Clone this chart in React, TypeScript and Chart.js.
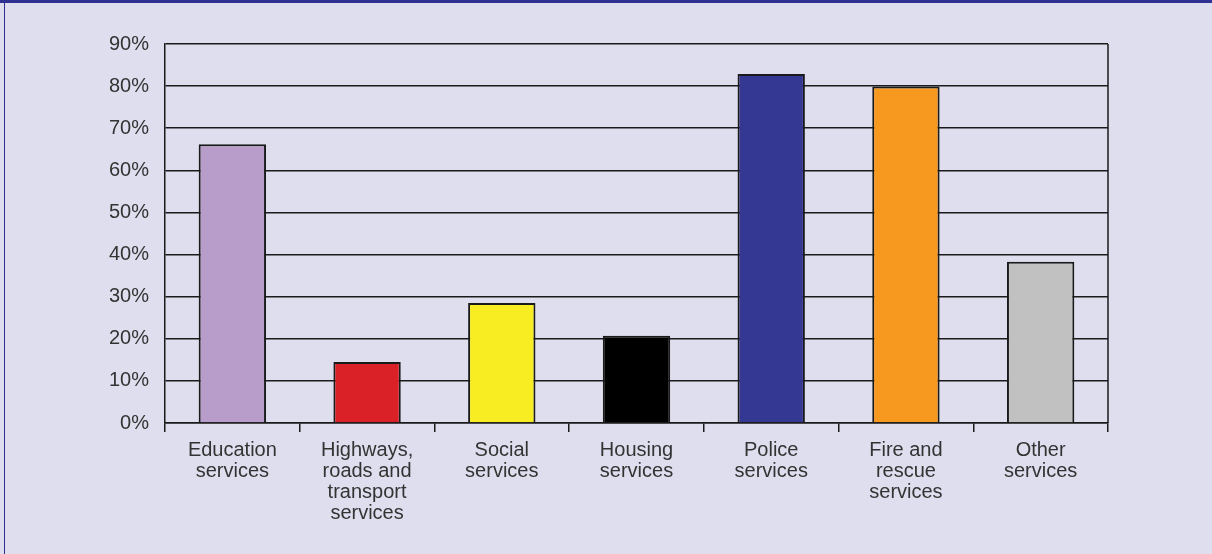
import React, { useEffect, useRef } from "react";
import { Chart, registerables } from "chart.js";

Chart.register(...registerables);

const categories: string[][] = [
  ["Education", "services"],
  ["Highways,", "roads and", "transport", "services"],
  ["Social", "services"],
  ["Housing", "services"],
  ["Police", "services"],
  ["Fire and", "rescue", "services"],
  ["Other", "services"],
];
const values: number[] = [66.2, 14.5, 28.5, 20.7, 82.9, 79.9, 38.3];
const barColors: string[] = ["#b89cc9", "#da2128", "#f8ec23", "#000000", "#343893", "#f8991f", "#c1c1c1"];
const yTicks: number[] = [0, 10, 20, 30, 40, 50, 60, 70, 80, 90];

const FONT = "'Liberation Sans', Arial, Helvetica, sans-serif";

const rightBorder = {
  id: "rightBorder",
  afterDraw(chart: any) {
    const { ctx, chartArea } = chart;
    ctx.save();
    ctx.strokeStyle = "#1a1a1a";
    ctx.lineWidth = 1.5;
    ctx.beginPath();
    ctx.moveTo(chartArea.right, chartArea.top);
    ctx.lineTo(chartArea.right, chartArea.bottom);
    ctx.stroke();
    ctx.restore();
  },
};

export default function App() {
  const ref = useRef<HTMLCanvasElement | null>(null);
  useEffect(() => {
    if (!ref.current) return;
    const chart = new Chart(ref.current, {
      type: "bar",
      data: {
        labels: categories,
        datasets: [
          {
            data: values,
            backgroundColor: barColors,
            borderColor: "#1a1a1a",
            borderWidth: 2,
            barPercentage: 0.5,
            categoryPercentage: 1,
          },
        ],
      },
      options: {
        animation: false,
        responsive: false,
        maintainAspectRatio: false,
        layout: { padding: { left: 0, top: 44, right: 104, bottom: 0 } },
        plugins: { legend: { display: false }, tooltip: { enabled: false } },
        scales: {
          x: {
            offset: true,
            grid: {
              offset: true,
              drawOnChartArea: false,
              drawTicks: true,
              tickLength: 9,
              color: "#1a1a1a",
              lineWidth: 1.5,
            },
            border: { display: true, color: "#1a1a1a", width: 1.5 },
            ticks: {
              color: "#333333",
              font: { family: FONT, size: 20, lineHeight: 1.05 },
              padding: 8,
              maxRotation: 0,
              autoSkip: false,
            },
            afterFit(scale: any) {
              scale.height = 554 - 423 - 0;
            },
          },
          y: {
            min: 0,
            max: 90,
            afterBuildTicks(scale: any) {
              scale.ticks = yTicks.map((v) => ({ value: v }));
            },
            grid: {
              drawTicks: false,
              color: "#1a1a1a",
              lineWidth: 1.5,
            },
            border: { display: true, color: "#1a1a1a", width: 1.5 },
            ticks: {
              color: "#333333",
              font: { family: FONT, size: 20 },
              padding: 16,
              callback: (v: any) => v + "%",
            },
            afterFit(scale: any) {
              scale.width = 165;
            },
          },
        },
      },
      plugins: [rightBorder],
    });
    return () => chart.destroy();
  }, []);

  return (
    <div
      style={{
        position: "fixed",
        left: 0,
        top: 0,
        width: 1212,
        height: 554,
        background: "#dfdeee",
        overflow: "hidden",
      }}
    >
      <div style={{ position: "absolute", left: 0, top: 0, width: 1212, height: 3, background: "#2e3192" }} />
      <div style={{ position: "absolute", left: 4, top: 0, width: 1, height: 554, background: "#2e3192" }} />
      <canvas ref={ref} width={1212} height={554} style={{ position: "absolute", left: 0, top: 0, display: "block" }} />
    </div>
  );
}
